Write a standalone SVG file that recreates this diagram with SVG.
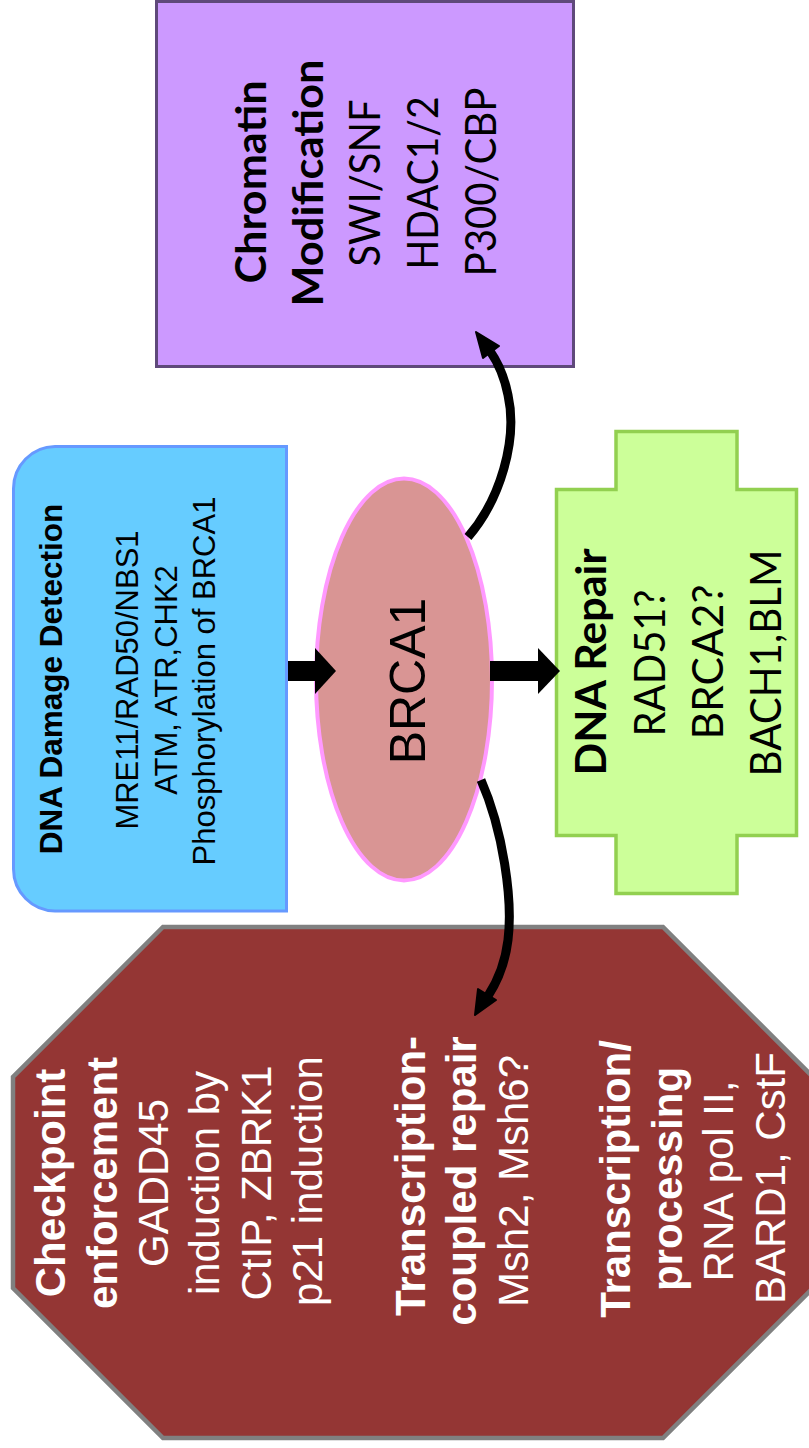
<svg xmlns="http://www.w3.org/2000/svg" width="809" height="1448" viewBox="0 0 809 1448">
  <style>
    .arial { font-family: "Liberation Sans", Arial, sans-serif; }
    .cal { font-family: Lato, "Open Sans", sans-serif; }
    text { text-anchor: middle; }
    .b { font-weight: bold; }
    .dk { fill: #000000; }
    .wh { fill: #FFFFFF; }
    .conn { fill: none; stroke: #000000; stroke-width: 9; stroke-linecap: butt; }
    .head { fill: #000000; stroke: #000000; stroke-width: 2; stroke-linejoin: round; }
  </style>

  <g id="chromatin">
    <rect x="156.5" y="1.5" width="417" height="365" fill="#CC99FF" stroke="#5F497A" stroke-width="3"/>
    <g class="cal dk" font-size="42">
      <text class="b" transform="translate(266,182) rotate(-90)" textLength="203" lengthAdjust="spacingAndGlyphs">Chromatin</text>
      <text class="b" transform="translate(323,183) rotate(-90)" textLength="247" lengthAdjust="spacingAndGlyphs">Modification</text>
      <text transform="translate(380,183) rotate(-90)" textLength="167" lengthAdjust="spacingAndGlyphs">SWI/SNF</text>
      <text transform="translate(438,183) rotate(-90)" textLength="173" lengthAdjust="spacingAndGlyphs">HDAC1/2</text>
      <text transform="translate(496,182) rotate(-90)" textLength="189" lengthAdjust="spacingAndGlyphs">P300/CBP</text>
    </g>
  </g>

  <g id="dna-damage-detection">
    <path d="M 55,446.5 H 286.5 V 911 H 55 A 42 42 0 0 1 13.5 869 V 488.5 A 42 42 0 0 1 55,446.5 Z" fill="#66CCFF" stroke="#6699FF" stroke-width="3"/>
    <g class="arial dk" font-size="31">
      <text class="b" font-size="31.5" transform="translate(62,679) rotate(-90)">DNA Damage Detection</text>
      <text transform="translate(138,680) rotate(-90)">MRE11/RAD50/NBS1</text>
      <text transform="translate(177,680) rotate(-90)">ATM, ATR,CHK2</text>
      <text transform="translate(215,681) rotate(-90)">Phosphorylation of BRCA1</text>
    </g>
  </g>

  <g id="brca1">
    <ellipse cx="404" cy="679.5" rx="88" ry="201" fill="#D99594" stroke="#FF99FF" stroke-width="4"/>
    <text class="arial dk" font-size="50" transform="translate(425,681) rotate(-90)">BRCA1</text>
  </g>

  <g id="dna-repair">
    <path d="M 616,431.5 H 737 V 489.5 H 796.5 V 835.5 H 737 V 893.5 H 616 V 835.5 H 556.5 V 489.5 H 616 Z" fill="#CCFF99" stroke="#92D050" stroke-width="3.5"/>
    <g class="cal dk" font-size="42">
      <text class="b" transform="translate(606,662) rotate(-90)" textLength="227" lengthAdjust="spacingAndGlyphs">DNA Repair</text>
      <text transform="translate(665,663) rotate(-90)" textLength="147" lengthAdjust="spacingAndGlyphs">RAD51?</text>
      <text transform="translate(723,662) rotate(-90)" textLength="155" lengthAdjust="spacingAndGlyphs">BRCA2?</text>
      <text transform="translate(781,663) rotate(-90)" textLength="227" lengthAdjust="spacingAndGlyphs">BACH1,BLM</text>
    </g>
  </g>

  <g id="octagon-functions">
    <polygon points="163,927 663,927 813,1077 813,1288 663,1438 163,1438 13,1288 13,1077" fill="#943634" stroke="#808080" stroke-width="4.5"/>
    <g class="arial wh" font-size="42">
      <text class="b" transform="translate(65,1183) rotate(-90)">Checkpoint</text>
      <text class="b" transform="translate(117,1183) rotate(-90)">enforcement</text>
      <text transform="translate(168,1183) rotate(-90)">GADD45</text>
      <text transform="translate(219,1183) rotate(-90)">induction by</text>
      <text transform="translate(271,1183) rotate(-90)">CtIP, ZBRK1</text>
      <text transform="translate(322,1181) rotate(-90)">p21 induction</text>
      <text class="b" transform="translate(425,1176) rotate(-90)">Transcription-</text>
      <text class="b" transform="translate(476,1181) rotate(-90)">coupled repair</text>
      <text transform="translate(528,1181) rotate(-90)">Msh2, Msh6?</text>
      <text class="b" transform="translate(630,1179) rotate(-90)">Transcription/</text>
      <text class="b" transform="translate(682,1179) rotate(-90)">processing</text>
      <text transform="translate(733,1181) rotate(-90)">RNA pol II,</text>
      <text transform="translate(785,1178) rotate(-90)">BARD1, CstF</text>
    </g>
  </g>

  <g id="connectors">
    <!-- DNA damage detection -> BRCA1 -->
    <rect x="288" y="661" width="28" height="20" fill="#000000"/>
    <polygon points="315,648 336,671 315,694" fill="#000000"/>
    <!-- BRCA1 -> DNA repair -->
    <rect x="490" y="661" width="49" height="20" fill="#000000"/>
    <polygon points="538,648 560,671 538,694" fill="#000000"/>
    <!-- BRCA1 -> chromatin modification -->
    <path class="conn" d="M 468,537 C 500,500 518,440 508,395 C 504,375 497,361 490,351"/>
    <polygon class="head" points="476,332 499,346 483,358"/>
    <!-- BRCA1 -> transcription-coupled repair -->
    <path class="conn" d="M 481,780 C 503,830 513,900 508,940 C 505,965 497,982 488,996"/>
    <polygon class="head" points="475,1015 496,1000 478,989"/>
  </g>
</svg>
